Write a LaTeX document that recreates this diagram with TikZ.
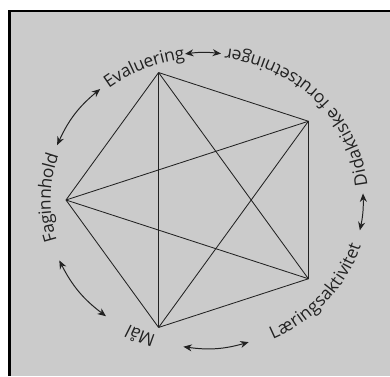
\documentclass[tikz,border=0pt]{standalone}
\usepackage{fontspec}
\setmainfont{Open Sans}
\usetikzlibrary{arrows.meta, decorations.text, calc}
\usepackage{xcolor}
\definecolor{scangray}{HTML}{CBCBCB}
\definecolor{inkdark}{HTML}{222222}
\newcommand{\ringfont}{\fontsize{12.4}{14}\selectfont}

\begin{document}
\begin{tikzpicture}[
    edge/.style={draw=inkdark, line width=0.6pt},
    pil/.style={draw=inkdark, line width=0.7pt,
      {Stealth[length=6pt,width=5pt]}-{Stealth[length=6pt,width=5pt]}},
    ringtext/.style={decorate, decoration={text along path, text align=center,
      raise=-3.6pt, text={|\color{inkdark}\ringfont|#1}}}
  ]
    % page and frame
    \useasboundingbox (-5,-4.4) rectangle (4.75,5);
    \fill[white] (-5,-4.4) rectangle (4.75,5);
    \fill[scangray] (-4.7625,-4.4) rectangle (4.75,4.725);
    \draw[black, line width=2pt] (-4.7625,-4.4) -- (-4.7625,4.725) -- (4.75,4.725);
    % pentagon with all diagonals
    \coordinate (fag) at (180:3.35);
    \coordinate (eva) at (108:3.35);
    \coordinate (did) at (36:3.35);
    \coordinate (lar) at (-36:3.35);
    \coordinate (mal) at (-108:3.35);
    \foreach \a/\b in {fag/eva, eva/did, did/lar, lar/mal, mal/fag,
                       fag/did, fag/lar, eva/lar, eva/mal, did/mal}
      \draw[edge] (\a) -- (\b);
    % labels round the ring
    \coordinate (R) at (0.11,-0.01);
    \path[ringtext=Evaluering] (R) ++(143:3.97cm and 3.69cm)
      arc[start angle=143, end angle=83, x radius=3.97cm, y radius=3.69cm];
    \path[ringtext=Faginnhold] (R) ++(209:3.97cm and 3.69cm)
      arc[start angle=209, end angle=149, x radius=3.97cm, y radius=3.69cm];
    \path[ringtext=Mål] (R) ++(271:3.97cm and 3.69cm)
      arc[start angle=271, end angle=221, x radius=3.97cm, y radius=3.69cm];
    \path[ringtext=Didaktiske forutsetninger] (R) ++(-11.5:3.97cm and 3.69cm)
      arc[start angle=-11.5, end angle=98.5, x radius=3.97cm, y radius=3.69cm];
    \path[ringtext=Læringsaktivitet] (R) ++(-71:3.97cm and 3.69cm)
      arc[start angle=-71, end angle=-11, x radius=3.97cm, y radius=3.69cm];
    % arrows between the labels
    \foreach \n/\s/\e in {1/84/97, 2/131/158, 3/204/231.7, 4/262.4/286.2, 5/-11.7/2.7} {
      \path (R) ++(\s:3.97cm and 3.69cm) coordinate (u\n);
      \path (R) ++(\e:3.97cm and 3.69cm) coordinate (v\n);
    }
    \foreach \n/\b in {1/7, 2/13, 3/13, 4/12, 5/7}
      \draw[pil] (u\n) to[bend right=\b] (v\n);
\end{tikzpicture}
\end{document}
